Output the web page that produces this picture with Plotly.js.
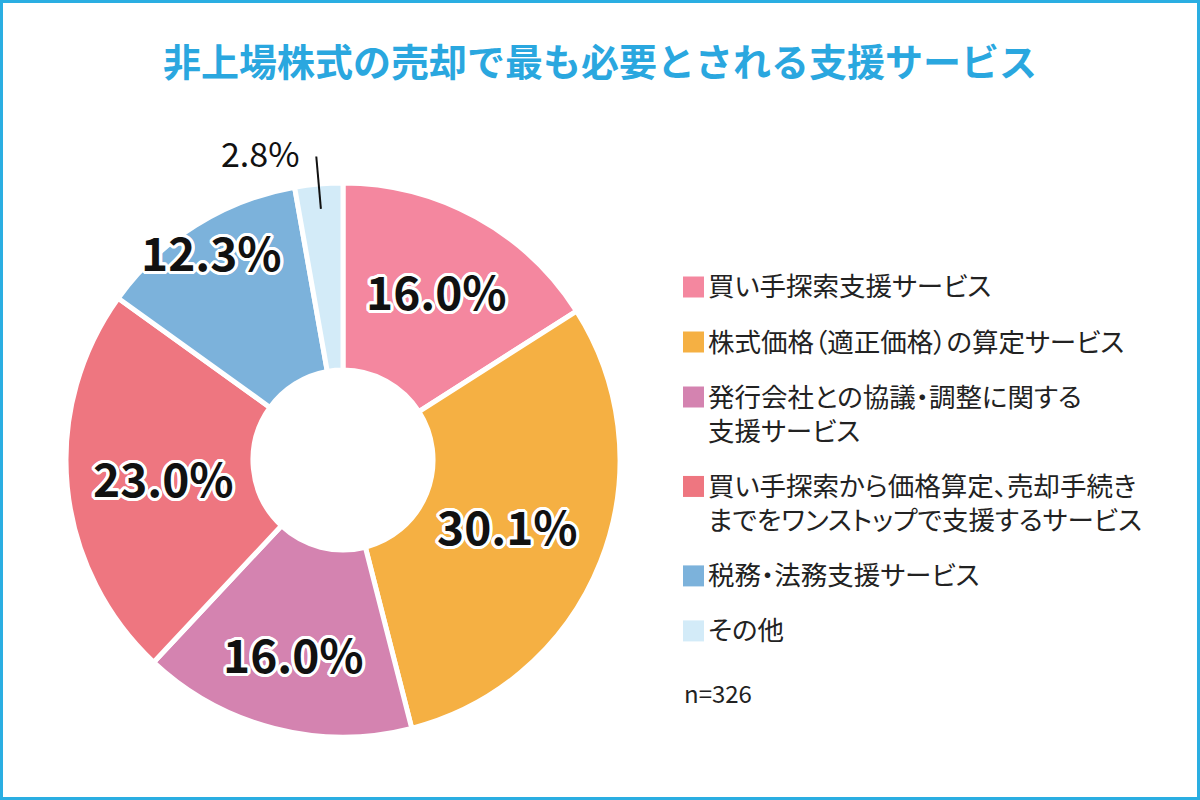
<!DOCTYPE html>
<html>
<head>
<meta charset="utf-8">
<script src="https://cdn.plot.ly/plotly-3.0.1.min.js"></script>
<style>
  html, body { margin: 0; padding: 0; background: #ffffff; }
  #chart { width: 1200px; height: 800px; }
  /* proportional kana and punctuation spacing in the annotation labels
     (unscoped so Plotly's off-screen text measurement sees it as well) */
  .annotation-text { font-feature-settings: "palt"; }
</style>
</head>
<body>
<div id="chart"></div>
<script>
// Survey: most needed support service when selling unlisted shares (n=326)
const titleText = "非上場株式の売却で最も必要とされる支援サービス";
const categories = [
  "買い手探索支援サービス",
  "株式価格（適正価格）の算定サービス",
  "発行会社との協議・調整に関する<br>支援サービス",
  "買い手探索から価格算定、売却手続き<br>までをワンストップで支援するサービス",
  "税務・法務支援サービス",
  "その他"
];
const shares = [16.0, 30.1, 16.0, 23.0, 12.3, 2.8];
const sampleNote = "n=326";

// slice colours
const colors = ["#f4879f", "#f5b043", "#d483b0", "#ee7680", "#7cb2db", "#d3ebf8"];

// page geometry (pixels)
const W = 1200, H = 800;
const cx = 343, cy = 460, R = 277;
// distance of each inside label from the centre, as a fraction of the radius
const labelRadius = [0.70, 0.64, 0.72, 0.65, 0.89];

const px = x => x / W;
const py = y => 1 - y / H;

const total = shares.reduce((a, b) => a + b, 0);
const fmt = v => v.toFixed(1) + "%";

const outline = [
  "#fff 3px 0 0", "#fff -3px 0 0", "#fff 0 3px 0", "#fff 0 -3px 0",
  "#fff 2px 2px 0", "#fff -2px 2px 0", "#fff 2px -2px 0", "#fff -2px -2px 0",
  "#fff 3px 1px 0", "#fff -3px 1px 0", "#fff 3px -1px 0", "#fff -3px -1px 0",
  "#fff 1px 3px 0", "#fff -1px 3px 0", "#fff 1px -3px 0", "#fff -1px -3px 0"
].join(", ");

const annotations = [];
const shapes = [];

// value labels, placed along each slice's mid angle (clockwise from 12 o'clock)
let cum = 0;
shares.forEach((v, i) => {
  const mid = (cum + v / 2) / total * 2 * Math.PI;
  cum += v;
  if (i < labelRadius.length) {
    const r = R * labelRadius[i];
    annotations.push({
      xref: "paper", yref: "paper",
      x: px(cx + r * Math.sin(mid)), y: py(cy - r * Math.cos(mid)),
      xanchor: "center", yanchor: "middle",
      text: fmt(v), showarrow: false,
      font: { family: "Noto Sans CJK JP", size: 46, weight: 700, color: "#111111", shadow: outline }
    });
  } else {
    // small slice: label outside with a leader line
    const r0 = R * 0.91, r1 = R * 1.10;
    const x0 = cx + r0 * Math.sin(mid), y0 = cy - r0 * Math.cos(mid);
    const x1 = cx + r1 * Math.sin(mid), y1 = cy - r1 * Math.cos(mid);
    shapes.push({
      type: "line", xref: "paper", yref: "paper",
      x0: px(x0), y0: py(y0), x1: px(x1), y1: py(y1),
      line: { color: "#111111", width: 2 }
    });
    annotations.push({
      xref: "paper", yref: "paper",
      x: px(x1 - 14), y: py(y1 - 4),
      xanchor: "right", yanchor: "middle",
      text: fmt(v), showarrow: false,
      font: { family: "Noto Sans CJK JP", size: 34, color: "#111111" }
    });
  }
});

// legend: colour swatch + (possibly two-line) label
const legendX = 683, swatch = 21, legendFont = 26.5, itemStep = 55;
const lineStep = legendFont * 1.3;   // Plotly's own line spacing for multi-line text
let ly = 287;
categories.forEach((name, i) => {
  shapes.push({
    type: "rect", xref: "paper", yref: "paper",
    x0: px(legendX), x1: px(legendX + swatch),
    y0: py(ly - swatch / 2), y1: py(ly + swatch / 2),
    fillcolor: colors[i], line: { width: 0 }
  });
  const nLines = name.split("<br>").length;
  annotations.push({
    xref: "paper", yref: "paper",
    x: px(legendX + swatch + 2), y: py(ly - 2 + (nLines - 1) * lineStep / 2),
    xanchor: "left", yanchor: "middle", align: "left",
    text: name, showarrow: false,
    font: { family: "Noto Sans CJK JP", size: legendFont, color: "#222222" }
  });
  ly += (nLines - 1) * lineStep + itemStep;
});

annotations.push({
  xref: "paper", yref: "paper",
  x: px(legendX - 1), y: py(692),
  xanchor: "left", yanchor: "middle",
  text: sampleNote, showarrow: false,
  font: { family: "Noto Sans CJK JP", size: 24, color: "#222222" }
});

// frame around the page
shapes.push({
  type: "rect", xref: "paper", yref: "paper",
  x0: px(1.5), x1: px(W - 1.5), y0: py(H - 1.5), y1: py(1.5),
  line: { color: "#2aaee2", width: 3 }, fillcolor: "rgba(0,0,0,0)"
});

const trace = {
  type: "pie",
  labels: categories,
  values: shares,
  sort: false,
  direction: "clockwise",
  rotation: 0,
  hole: 0.325,
  marker: { colors: colors, line: { color: "#ffffff", width: 5 } },
  textinfo: "none",
  hovertemplate: "%{label}: %{value:.1f}%<extra></extra>",
  showlegend: false,
  domain: { x: [px(cx - R), px(cx + R)], y: [py(cy + R), py(cy - R)] }
};

const layout = {
  width: W, height: H,
  margin: { l: 0, r: 0, t: 0, b: 0 },
  paper_bgcolor: "#ffffff",
  title: {
    text: titleText,
    x: 0.5, xanchor: "center",
    y: py(63), yanchor: "middle", yref: "container",
    font: { family: "Noto Sans CJK JP", size: 38, weight: 700, color: "#2aa7df" }
  },
  showlegend: false,
  annotations: annotations,
  shapes: shapes
};

Plotly.newPlot("chart", [trace], layout, { displayModeBar: false, staticPlot: true });
</script>
</body>
</html>
